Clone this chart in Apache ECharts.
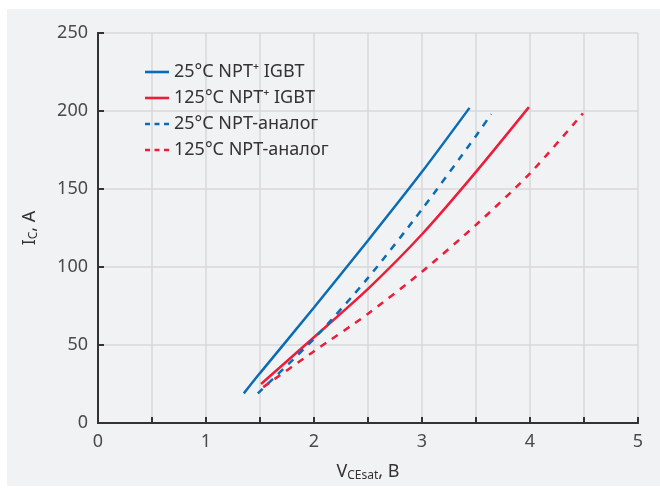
<!DOCTYPE html>
<html><head><meta charset="utf-8">
<script src="https://cdn.jsdelivr.net/npm/echarts@6/dist/echarts.min.js"></script>
<style>html,body{margin:0;padding:0;background:#fff}#c{width:660px;height:495px}</style>
</head><body><div id="c"></div>
<script>
const seriesNames = ['25°C NPT\u207A IGBT', '125°C NPT\u207A IGBT', '25°C NPT-аналог', '125°C NPT-аналог'];
const blueSolid = [[1.35,19],[1.5,32],[2,74],[2.5,117],[3,161],[3.44,202]];
const redSolid  = [[1.51,25],[2,55],[2.5,86],[3,121],[3.5,161],[3.99,202.5]];
const blueDash  = [[1.48,19],[2,54],[2.5,93],[3,137],[3.5,184],[3.64,198]];
const redDash   = [[1.53,23],[2,46],[2.5,70],[3,97],[3.5,127],[4,160],[4.49,198.5]];
const xTicks = [0,1,2,3,4,5];
const yTicks = [0,50,100,150,200,250];

const BLUE = '#0a6cb6', RED = '#ec1c3a';
const font = '"Noto Sans", sans-serif';
const SOLID_ICON = 'path://M0,0h24v2.6h-24z';
const DASH_ICON = 'path://M0,0h5v2.6h-5z M9.5,0h5v2.6h-5z M19,0h5v2.6h-5z';
const chart = echarts.init(document.getElementById('c'));
function mk(name, data, color, dashed) {
  return { name, type: 'line', data, smooth: 0.25, symbol: 'none',
    lineStyle: { color, width: 2.5, type: dashed ? [7, 7] : 'solid', cap: 'butt' },
    itemStyle: { color } };
}
const rich = { a: { fontSize: 18, color: '#333', fontFamily: font }, s: { fontSize: 12, color: '#333', fontFamily: font, verticalAlign: 'bottom', padding: [9, 0, 0, 0] } };
chart.setOption({
  animation: false,
  textStyle: { fontFamily: font },
  graphic: [{ type: 'rect', z: -100, silent: true, shape: { x: 7, y: 9, width: 653, height: 477 }, style: { fill: '#f1f2f4' } }],
  grid: { left: 98, right: 22, top: 33, bottom: 72 },
  legend: {
    orient: 'vertical', left: 140, top: 58, itemWidth: 24, itemHeight: 3, itemGap: 8,
    textStyle: { fontSize: 18, color: '#333', fontFamily: font },
    data: [
      { name: seriesNames[0], icon: SOLID_ICON },
      { name: seriesNames[1], icon: SOLID_ICON },
      { name: seriesNames[2], icon: DASH_ICON },
      { name: seriesNames[3], icon: DASH_ICON }
    ]
  },
  xAxis: [{
    type: 'value', min: 0, max: 5, interval: 0.5,
    axisLine: { lineStyle: { color: '#333', width: 2 } },
    axisTick: { inside: true, length: 6, lineStyle: { color: '#333', width: 2 } },
    splitLine: { lineStyle: { color: '#d8d9db', width: 1.5 } },
    axisLabel: { fontSize: 18, color: '#4a4a4a', margin: 10, fontFamily: font,
      formatter: v => xTicks.includes(v) ? String(v) : '' },
    name: '{a|V}{s|CEsat}{a|, B}', nameLocation: 'middle', nameGap: 38,
    nameTextStyle: { rich }
  }, {
    type: 'value', min: 0, max: 5, position: 'top',
    axisLine: { show: true, lineStyle: { color: '#333', width: 2 } },
    axisTick: { show: false }, axisLabel: { show: false }, splitLine: { show: false }
  }],
  yAxis: [{
    type: 'value', min: 0, max: 250, interval: 50,
    axisLine: { show: true, lineStyle: { color: '#333', width: 2 } },
    axisTick: { show: true, inside: true, length: 6, lineStyle: { color: '#333', width: 2 } },
    splitLine: { lineStyle: { color: '#d8d9db', width: 1.5 } },
    axisLabel: { fontSize: 18, color: '#4a4a4a', margin: 10, fontFamily: font,
      formatter: v => yTicks.includes(v) ? String(v) : '' },
    name: '{a|I}{s|C}{a|, A}', nameLocation: 'middle', nameGap: 58, nameRotate: 90,
    nameTextStyle: { rich }
  }, {
    type: 'value', min: 0, max: 250, position: 'right',
    axisLine: { show: true, lineStyle: { color: '#333', width: 2 } },
    axisTick: { show: false }, axisLabel: { show: false }, splitLine: { show: false }
  }],
  series: [
    mk(seriesNames[0], blueSolid, BLUE, false),
    mk(seriesNames[1], redSolid, RED, false),
    mk(seriesNames[2], blueDash, BLUE, true),
    mk(seriesNames[3], redDash, RED, true)
  ]
});
</script></body></html>
